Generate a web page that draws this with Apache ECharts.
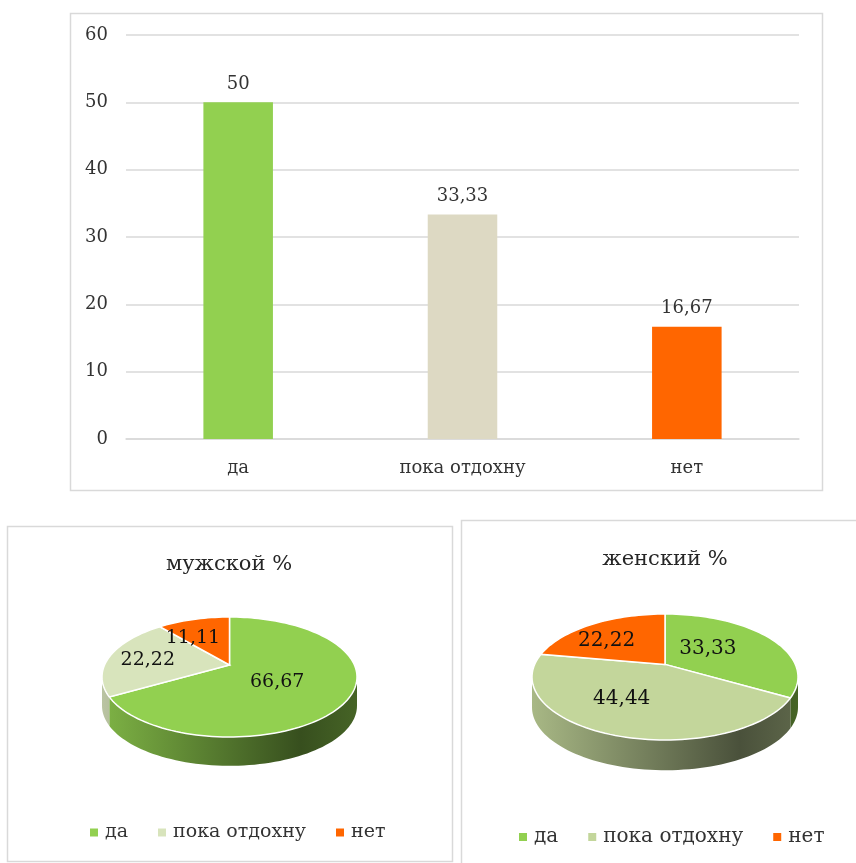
<!DOCTYPE html>
<html>
<head>
<meta charset="utf-8">
<script src="https://cdn.jsdelivr.net/npm/echarts@6/dist/echarts.min.js"></script>
<style>
  html, body { margin: 0; padding: 0; background: #fff; }
  #main { width: 856px; height: 863px; }
</style>
</head>
<body>
<div id="main"></div>
<script>
// данные
var categories = ['да', 'пока отдохну', 'нет'];
var totalValues = [50, 33.33, 16.67];
var maleValues = [66.67, 22.22, 11.11];
var femaleValues = [33.33, 44.44, 22.22];

var barColors = ['#92D050', '#DDD9C3', '#FF6600'];
var maleColors = ['#92D050', '#D8E4BC', '#FF6600'];
var femaleColors = ['#92D050', '#C3D69B', '#FF6600'];

var FONT = 'DejaVu Serif';
var TEXT = '#333333';

var chart = echarts.init(document.getElementById('main'));

function shade(hex, k) {
  var n = parseInt(hex.slice(1), 16);
  var r = Math.round(((n >> 16) & 255) * k);
  var g = Math.round(((n >> 8) & 255) * k);
  var b = Math.round((n & 255) * k);
  return 'rgb(' + r + ',' + g + ',' + b + ')';
}
function fmt(v) { return String(v).replace('.', ','); }

// псевдо-3D круговая: круг в перспективе -> эллипс в сетке [-1,1]x[-1,1]
var PERSP = 0.2;    // насколько центр круга смещён вверх (доля полуоси y)
var DEPTH = 0.48;   // высота боковой стенки в единицах оси y
var LABEL_R = 0.55;
var LABEL_DX = -0.12;

// точка круга (радиус r, угол deg по часовой от верха) -> координаты эллипса
function project(r, deg) {
  var a = deg * Math.PI / 180;
  var X = r * Math.sin(a), Z = r * Math.cos(a);
  var w = 1 + PERSP * Z;
  return [Math.sqrt(1 - PERSP * PERSP) * X / w, (1 - PERSP * PERSP) * Z / w + PERSP];
}

function pieSeries(values, colors, gi, labelSize) {
  var total = values.reduce(function (a, b) { return a + b; }, 0);
  var sideFrom = Math.acos(-PERSP) * 180 / Math.PI;   // край эллипса слева/справа
  var sideTo = 360 - sideFrom;
  return values.map(function (v, k) {
    var before = 0;
    for (var i = 0; i < k; i++) before += values[i];
    return {
      type: 'custom',
      name: categories[k],
      coordinateSystem: 'cartesian2d',
      xAxisIndex: gi,
      yAxisIndex: gi,
      itemStyle: { color: colors[k] },
      encode: { x: 0, y: 1 },
      data: [[0, 0, v]],
      renderItem: function (params, api) {
        var val = api.value(2);
        var a0 = before / total * 360;
        var a1 = (before + val) / total * 360;
        var arc = function (from, to) {
          var n = Math.max(1, Math.ceil((to - from) / 2));
          var out = [];
          for (var j = 0; j <= n; j++) out.push(api.coord(project(1, from + (to - from) * j / n)));
          return out;
        };
        var depth = api.size([0, DEPTH])[1];
        var xl = api.coord([-1, 0])[0];
        var xr = api.coord([1, 0])[0];
        var children = [];

        // боковая стенка (видна только передняя часть)
        var s0 = Math.max(a0, sideFrom), s1 = Math.min(a1, sideTo);
        if (s1 > s0) {
          var upper = arc(s0, s1);
          var lower = upper.map(function (p) { return [p[0], p[1] + depth]; }).reverse();
          children.push({
            type: 'polygon',
            shape: { points: upper.concat(lower) },
            style: {
              fill: {
                type: 'linear', x: xl, y: 0, x2: xr, y2: 0, global: true,
                colorStops: [
                  { offset: 0, color: shade(colors[k], 0.86) },
                  { offset: 0.78, color: shade(colors[k], 0.38) },
                  { offset: 1, color: shade(colors[k], 0.48) }
                ]
              },
              stroke: null
            }
          });
        }

        // верхняя грань
        children.push({
          type: 'polygon',
          shape: { points: [api.coord(project(0, 0))].concat(arc(a0, a1)) },
          style: { fill: colors[k], stroke: '#fff', lineWidth: 1.5 }
        });

        // подпись
        var lpd = project(LABEL_R, (a0 + a1) / 2);
        var lp = api.coord([lpd[0] + LABEL_DX, lpd[1]]);
        children.push({
          type: 'text',
          z2: 100,
          style: {
            text: fmt(val), x: lp[0], y: lp[1],
            align: 'center', verticalAlign: 'middle',
            fontSize: labelSize, fontFamily: FONT, fill: '#111'
          }
        });
        return { type: 'group', children: children };
      }
    };
  });
}

function legendFor(colors, left, top, size) {
  return {
    left: left, top: top,
    icon: 'rect', itemWidth: 8, itemHeight: 8, itemGap: 30,
    formatter: '{t|{name}}',
    textStyle: {
      fontFamily: FONT, fontSize: size, color: TEXT,
      rich: { t: { fontFamily: FONT, fontSize: size, color: TEXT, padding: [0, 0, 0, 2] } }
    },
    data: categories.map(function (c, i) {
      return { name: c, itemStyle: { color: colors[i] } };
    })
  };
}

var hiddenAxis = { type: 'value', min: -1, max: 1, show: false };

var option = {
  animation: false,
  backgroundColor: '#fff',
  textStyle: { fontFamily: FONT },
  graphic: [
    { type: 'rect', silent: true, shape: { x: 70.5, y: 13.5, width: 752, height: 477 },
      style: { fill: 'none', stroke: '#D9D9D9', lineWidth: 1.5 } },
    { type: 'rect', silent: true, shape: { x: 7.5, y: 526.5, width: 445, height: 335 },
      style: { fill: 'none', stroke: '#D9D9D9', lineWidth: 1.5 } },
    { type: 'rect', silent: true, shape: { x: 461.5, y: 520.5, width: 400, height: 350 },
      style: { fill: 'none', stroke: '#D9D9D9', lineWidth: 1.5 } }
  ],
  title: [
    { text: 'мужской %', left: 224, top: 549, textAlign: 'center',
      textStyle: { fontFamily: FONT, fontSize: 21, fontWeight: 'normal', color: '#262626' } },
    { text: 'женский %', left: 660, top: 544, textAlign: 'center',
      textStyle: { fontFamily: FONT, fontSize: 21, fontWeight: 'normal', color: '#262626' } }
  ],
  legend: [
    legendFor(maleColors, 85, 818, 19),
    legendFor(femaleColors, 514, 822, 20)
  ],
  grid: [
    { left: 126, right: 57, top: 35, bottom: 424 },
    { left: 102, top: 617, width: 255, height: 120 },
    { left: 532, top: 614, width: 266, height: 126 }
  ],
  xAxis: [
    {
      type: 'category', data: categories, gridIndex: 0,
      axisLine: { lineStyle: { color: '#D9D9D9', width: 1.5 } },
      axisTick: { show: false },
      axisLabel: { fontFamily: FONT, fontSize: 18, color: TEXT, margin: 20 }
    },
    Object.assign({ gridIndex: 1 }, hiddenAxis),
    Object.assign({ gridIndex: 2 }, hiddenAxis)
  ],
  yAxis: [
    {
      type: 'value', gridIndex: 0, min: 0, max: 60, interval: 10,
      axisLine: { show: false },
      axisTick: { show: false },
      axisLabel: { fontFamily: FONT, fontSize: 18, color: TEXT, margin: 18 },
      splitLine: { lineStyle: { color: '#D9D9D9', width: 1.5 } }
    },
    Object.assign({ gridIndex: 1 }, hiddenAxis),
    Object.assign({ gridIndex: 2 }, hiddenAxis)
  ],
  series: [
    {
      type: 'bar',
      xAxisIndex: 0, yAxisIndex: 0,
      barWidth: '31%',
      data: totalValues.map(function (v, i) {
        return { value: v, itemStyle: { color: barColors[i] } };
      }),
      label: {
        show: true, position: 'top', distance: 9,
        fontFamily: FONT, fontSize: 18, color: TEXT,
        formatter: function (p) { return fmt(p.value); }
      }
    }
  ].concat(pieSeries(maleValues, maleColors, 1, 19), pieSeries(femaleValues, femaleColors, 2, 20))
};

chart.setOption(option);
</script>
</body>
</html>
